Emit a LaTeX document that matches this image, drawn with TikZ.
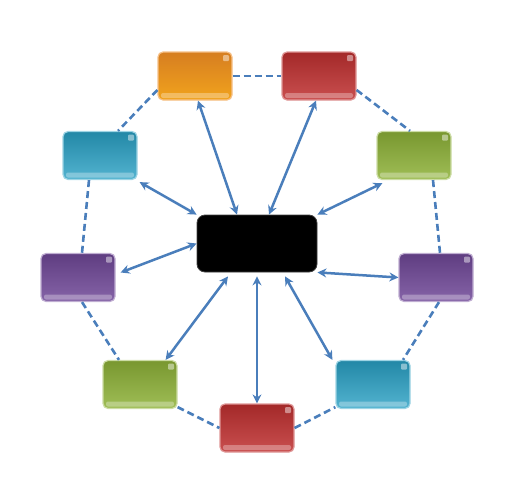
\documentclass[tikz,border=0pt]{standalone}
\usetikzlibrary{arrows.meta}

\definecolor{linkblue}{RGB}{74,126,187}
\definecolor{boxorange}{RGB}{238,140,36}
\definecolor{boxred}{RGB}{192,48,48}
\definecolor{boxcyan}{RGB}{40,160,196}
\definecolor{boxgreen}{RGB}{142,178,56}
\definecolor{boxpurple}{RGB}{112,72,152}

\begin{document}
\begin{tikzpicture}[
    x=1pt, y=-1pt,
    box/.style={
        rectangle,
        rounded corners=5pt,
        minimum width=74pt,
        minimum height=48pt,
        line width=1.2pt,
        path picture={
            \fill[white, opacity=0.3, rounded corners=2pt]
                ([xshift=3pt,yshift=2pt]path picture bounding box.south west)
                rectangle ([xshift=-3pt,yshift=7pt]path picture bounding box.south east);
            \fill[white, opacity=0.45, rounded corners=1pt]
                ([xshift=-9pt,yshift=-3pt]path picture bounding box.north east)
                rectangle ([xshift=-3pt,yshift=-9pt]path picture bounding box.north east);
        }
    },
    hub/.style={
        rectangle,
        rounded corners=8pt,
        minimum width=120pt,
        minimum height=57pt,
        fill=black,
        draw=black!75,
        line width=0.8pt
    },
    orangebox/.style={top color=boxorange!90!black, bottom color=boxorange!80!yellow, draw=boxorange!55!white},
    redbox/.style={top color=boxred!85!black, bottom color=boxred!85!white, draw=boxred!50!white},
    cyanbox/.style={top color=boxcyan!85!black, bottom color=boxcyan!80!white, draw=boxcyan!45!white},
    greenbox/.style={top color=boxgreen!85!black, bottom color=boxgreen!85!white, draw=boxgreen!45!white},
    purplebox/.style={top color=boxpurple!85!black, bottom color=boxpurple!85!white, draw=boxpurple!45!white},
    link/.style={
        draw=linkblue,
        line width=2.5pt,
        {Stealth[length=9pt,width=9pt]}-{Stealth[length=9pt,width=9pt]}
    },
    ring/.style={
        draw=linkblue,
        line width=2.6pt,
        dash pattern=on 7pt off 4pt
    }
]
\useasboundingbox (0,0) rectangle (509,491);

% Centre
\node[hub] (hub) at (257,243.5) {};

% Outer boxes
\node[box, orangebox] (topL) at (195,76) {};
\node[box, redbox] (topR) at (319,76) {};
\node[box, cyanbox] (upL) at (100,155.5) {};
\node[box, greenbox] (upR) at (414,155.5) {};
\node[box, purplebox] (midL) at (78,277.5) {};
\node[box, purplebox] (midR) at (436,277.5) {};
\node[box, greenbox] (lowL) at (140,384.5) {};
\node[box, cyanbox] (lowR) at (373,384.5) {};
\node[box, redbox] (bottom) at (257,428) {};

% Ring
\draw[ring] (topL.east) -- (topR.west);
\draw[ring] ([yshift=-14pt]topL.west) -- ([xshift=18pt]upL.north);
\draw[ring] ([yshift=-14pt]topR.east) -- ([xshift=-4pt]upR.north);
\draw[ring] ([xshift=-11pt]upL.south) -- ([xshift=4pt]midL.north);
\draw[ring] ([xshift=19pt]upR.south) -- ([xshift=4pt]midR.north);
\draw[ring] ([xshift=4pt]midL.south) -- ([xshift=-21pt]lowL.north);
\draw[ring] ([xshift=3pt]midR.south) -- ([xshift=30pt]lowR.north);
\draw[ring] ([yshift=2pt]lowL.south east) -- (bottom.west);
\draw[ring] (bottom.east) -- ([yshift=2pt]lowR.south west);

% Spokes
\draw[link] ([xshift=3pt]topL.south) -- ([xshift=-20pt]hub.north);
\draw[link] ([xshift=-3pt]topR.south) -- ([xshift=12pt]hub.north);
\draw[link] ([xshift=2pt,yshift=-2pt]upL.south east) -- (hub.north west);
\draw[link] ([xshift=6pt,yshift=-3pt]upR.south west) -- (hub.north east);
\draw[link] ([xshift=5pt,yshift=5pt]midL.east) -- (hub.west);
\draw[link] (midR.west) -- (hub.south east);
\draw[link] ([xshift=-12pt]lowL.north east) -- ([xshift=-29pt,yshift=-4pt]hub.south);
\draw[link] (bottom.north) -- ([yshift=-4pt]hub.south);
\draw[link] ([xshift=-3pt]lowR.north west) -- ([xshift=28pt,yshift=-4pt]hub.south);

\end{tikzpicture}
\end{document}
